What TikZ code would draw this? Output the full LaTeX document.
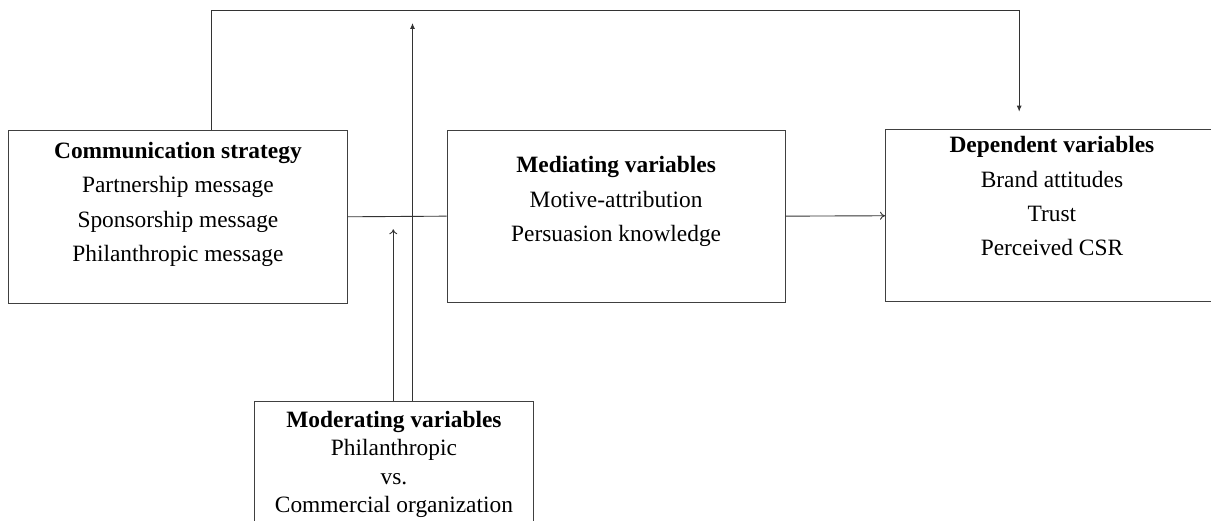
\documentclass[tikz,border=0pt]{standalone}
\usepackage{fontspec}
\setmainfont{Liberation Serif}
\usetikzlibrary{arrows.meta}
\tikzset{
  box/.style={draw=black!75, line width=0.9pt, inner sep=0pt, anchor=north west},
  link/.style={draw=black!80, line width=0.9pt},
  arrfill/.style={link, -{Latex[length=6pt,width=5pt]}},
  arropen/.style={link, -{To[length=5pt,width=8pt]}}
}
\newcommand{\bigtxt}{\fontsize{23.4}{34.3}\selectfont}
\newcommand{\tighttxt}{\fontsize{23.4}{28.6}\selectfont}
\begin{document}
\begin{tikzpicture}[x=1pt,y=-1pt]
\useasboundingbox (0,0) rectangle (1211,521);
% boxes
\node[box] (comm) at (8.3,130) {\parbox[c][172.7pt][t]{338.4pt}{\centering\bigtxt\rule{0pt}{28pt}\textbf{Communication strategy}\\Partnership message\\Sponsorship message\\Philanthropic message}};
\node[box] (med) at (446.7,129.7) {\parbox[c][172pt][t]{338pt}{\centering\bigtxt\rule{0pt}{42.6pt}\textbf{Mediating variables}\\Motive-attribution\\Persuasion knowledge}};
\node[box] (dep) at (885,129.3) {\parbox[c][172pt][t]{333pt}{\centering\bigtxt\rule{0pt}{23pt}\textbf{Dependent variables}\\Brand attitudes\\Trust\\Perceived CSR}};
\node[box] (mod) at (254,400.7) {\parbox[c][140pt][t]{279pt}{\centering\tighttxt\rule{0pt}{26pt}\textbf{Moderating variables}\\Philanthropic\\vs.\\Commercial organization}};
% helper coordinates
\coordinate (topL) at (211.7,10.3);
\coordinate (topR) at (1019.2,10.3);
\coordinate (tallTop) at (412.5,23);
\coordinate (shortTop) at (393.3,229.3);
% connectors
\draw[arrfill, shorten >=17.6pt] (comm.north -| topL) -- (topL) -- (topR) -- (dep.north -| topR);
\draw[link] (comm.east) -- (med.west);
\draw[arropen] (med.east) -- (dep.west);
\draw[arrfill] (mod.north -| tallTop) -- (tallTop);
\draw[arropen] (mod.north -| shortTop) -- (shortTop);
\end{tikzpicture}
\end{document}
